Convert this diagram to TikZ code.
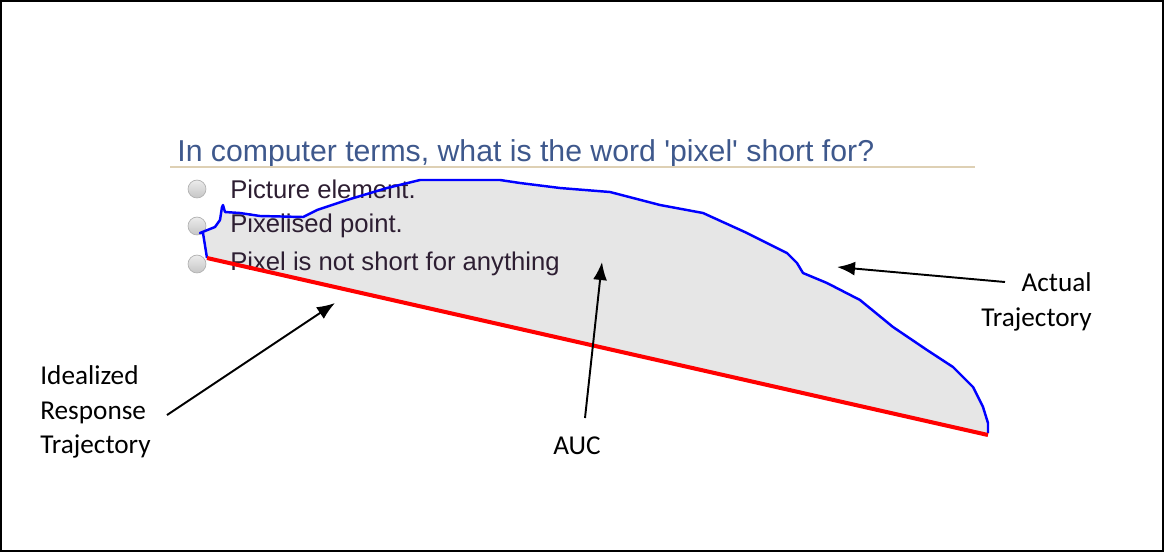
\documentclass[tikz,border=0pt]{standalone}
\usepackage{fontspec}
\setmainfont{Carlito}
\newfontfamily\webfont{Liberation Sans}
\usetikzlibrary{arrows.meta}

\definecolor{qblue}{RGB}{62,88,140}
\definecolor{rule}{RGB}{222,208,180}
\definecolor{opttext}{RGB}{45,30,50}
\definecolor{aucgray}{RGB}{230,230,230}

\tikzset{
  lbl/.style={font=\fontsize{15.5}{19.5}\selectfont, inner sep=0pt},
  pointer/.style={-{Latex[length=3.6mm,width=2.8mm]}, line width=1.1pt},
  radio/.style={circle, draw=gray!60, inner sep=0pt, minimum size=18pt*0.567,
    top color=gray!15, bottom color=gray!45},
  opt/.style={anchor=west, inner sep=0pt, text=opttext,
    font=\webfont\fontsize{14.6}{16}\selectfont}
}

\begin{document}
\begin{tikzpicture}[x=0.02cm,y=-0.02cm]
    \useasboundingbox (0,0) rectangle (1164,552);
    \draw[line width=1.2pt] (1,1) rectangle (1163,551);

    % area under the curve
    \fill[aucgray]
      (207,258) -- (203,233) -- (200,233) -- (215,227) -- (220,220) -- (222,207)
      -- (223,205) -- (225,212) -- (240,213) -- (260,216) -- (303,217) -- (317,210)
      -- (347,200) -- (387,188) -- (420,180) -- (500,180) -- (520,183) -- (560,188)
      -- (610,192) -- (660,205) -- (703,213) -- (747,233) -- (787,253) -- (797,263)
      -- (803,273) -- (827,283) -- (860,300) -- (893,327) -- (927,350) -- (953,367)
      -- (973,387) -- (983,407) -- (988,423) -- (988,435) -- cycle;

    % question and answers
    \node[anchor=base west, inner sep=0pt, text=qblue,
      font=\webfont\fontsize{17.2}{19}\selectfont] (quest) at (177,161)
      {In computer terms, what is the word 'pixel' short for?};
    \draw[rule, line width=0.8pt] (170,167) -- (975,167);
    \node[radio] (r1) at (197,189) {};
    \node[radio] (r2) at (197,226) {};
    \node[radio] (r3) at (197,264) {};
    \node[opt] (o1) at (230,189) {Picture element.};
    \node[opt] (o2) at (230,226) {Pixelised point.};
    \node[opt] (o3) at (230,264) {Pixel is not short for anything};

    % trajectories
    \draw[blue, line width=1.4pt, line join=round]
      (207,258) -- (203,233) -- (200,233) -- (215,227) -- (220,220) -- (222,207)
      -- (223,205) -- (225,212) -- (240,213) -- (260,216) -- (303,217) -- (317,210)
      -- (347,200) -- (387,188) -- (420,180) -- (500,180) -- (520,183) -- (560,188)
      -- (610,192) -- (660,205) -- (703,213) -- (747,233) -- (787,253) -- (797,263)
      -- (803,273) -- (827,283) -- (860,300) -- (893,327) -- (927,350) -- (953,367)
      -- (973,387) -- (983,407) -- (988,423) -- (988,433);
    \coordinate (ideal0) at (207,258);
    \coordinate (ideal1) at (988,435);
    \draw[red, line width=2.3pt] (ideal0) -- (ideal1);

    % labels
    \node[lbl, anchor=west, align=left] (idl) at (40,412)
      {Idealized\\Response\\Trajectory};
    \node[lbl] (auc) at (577,446) {AUC};
    \node[lbl, anchor=east, align=right] (act) at (1092,302)
      {Actual\\Trajectory};

    \coordinate (idltail) at (167,415);
    \coordinate (idltip) at (335,303);
    \coordinate (auctail) at (585,418);
    \coordinate (auctip) at (602,262);
    \coordinate (acttail) at (1005,282);
    \coordinate (acttip) at (837,267);
    \draw[pointer] (idltail) -- (idltip);
    \draw[pointer] (auctail) -- (auctip);
    \draw[pointer] (acttail) -- (acttip);
\end{tikzpicture}
\end{document}
